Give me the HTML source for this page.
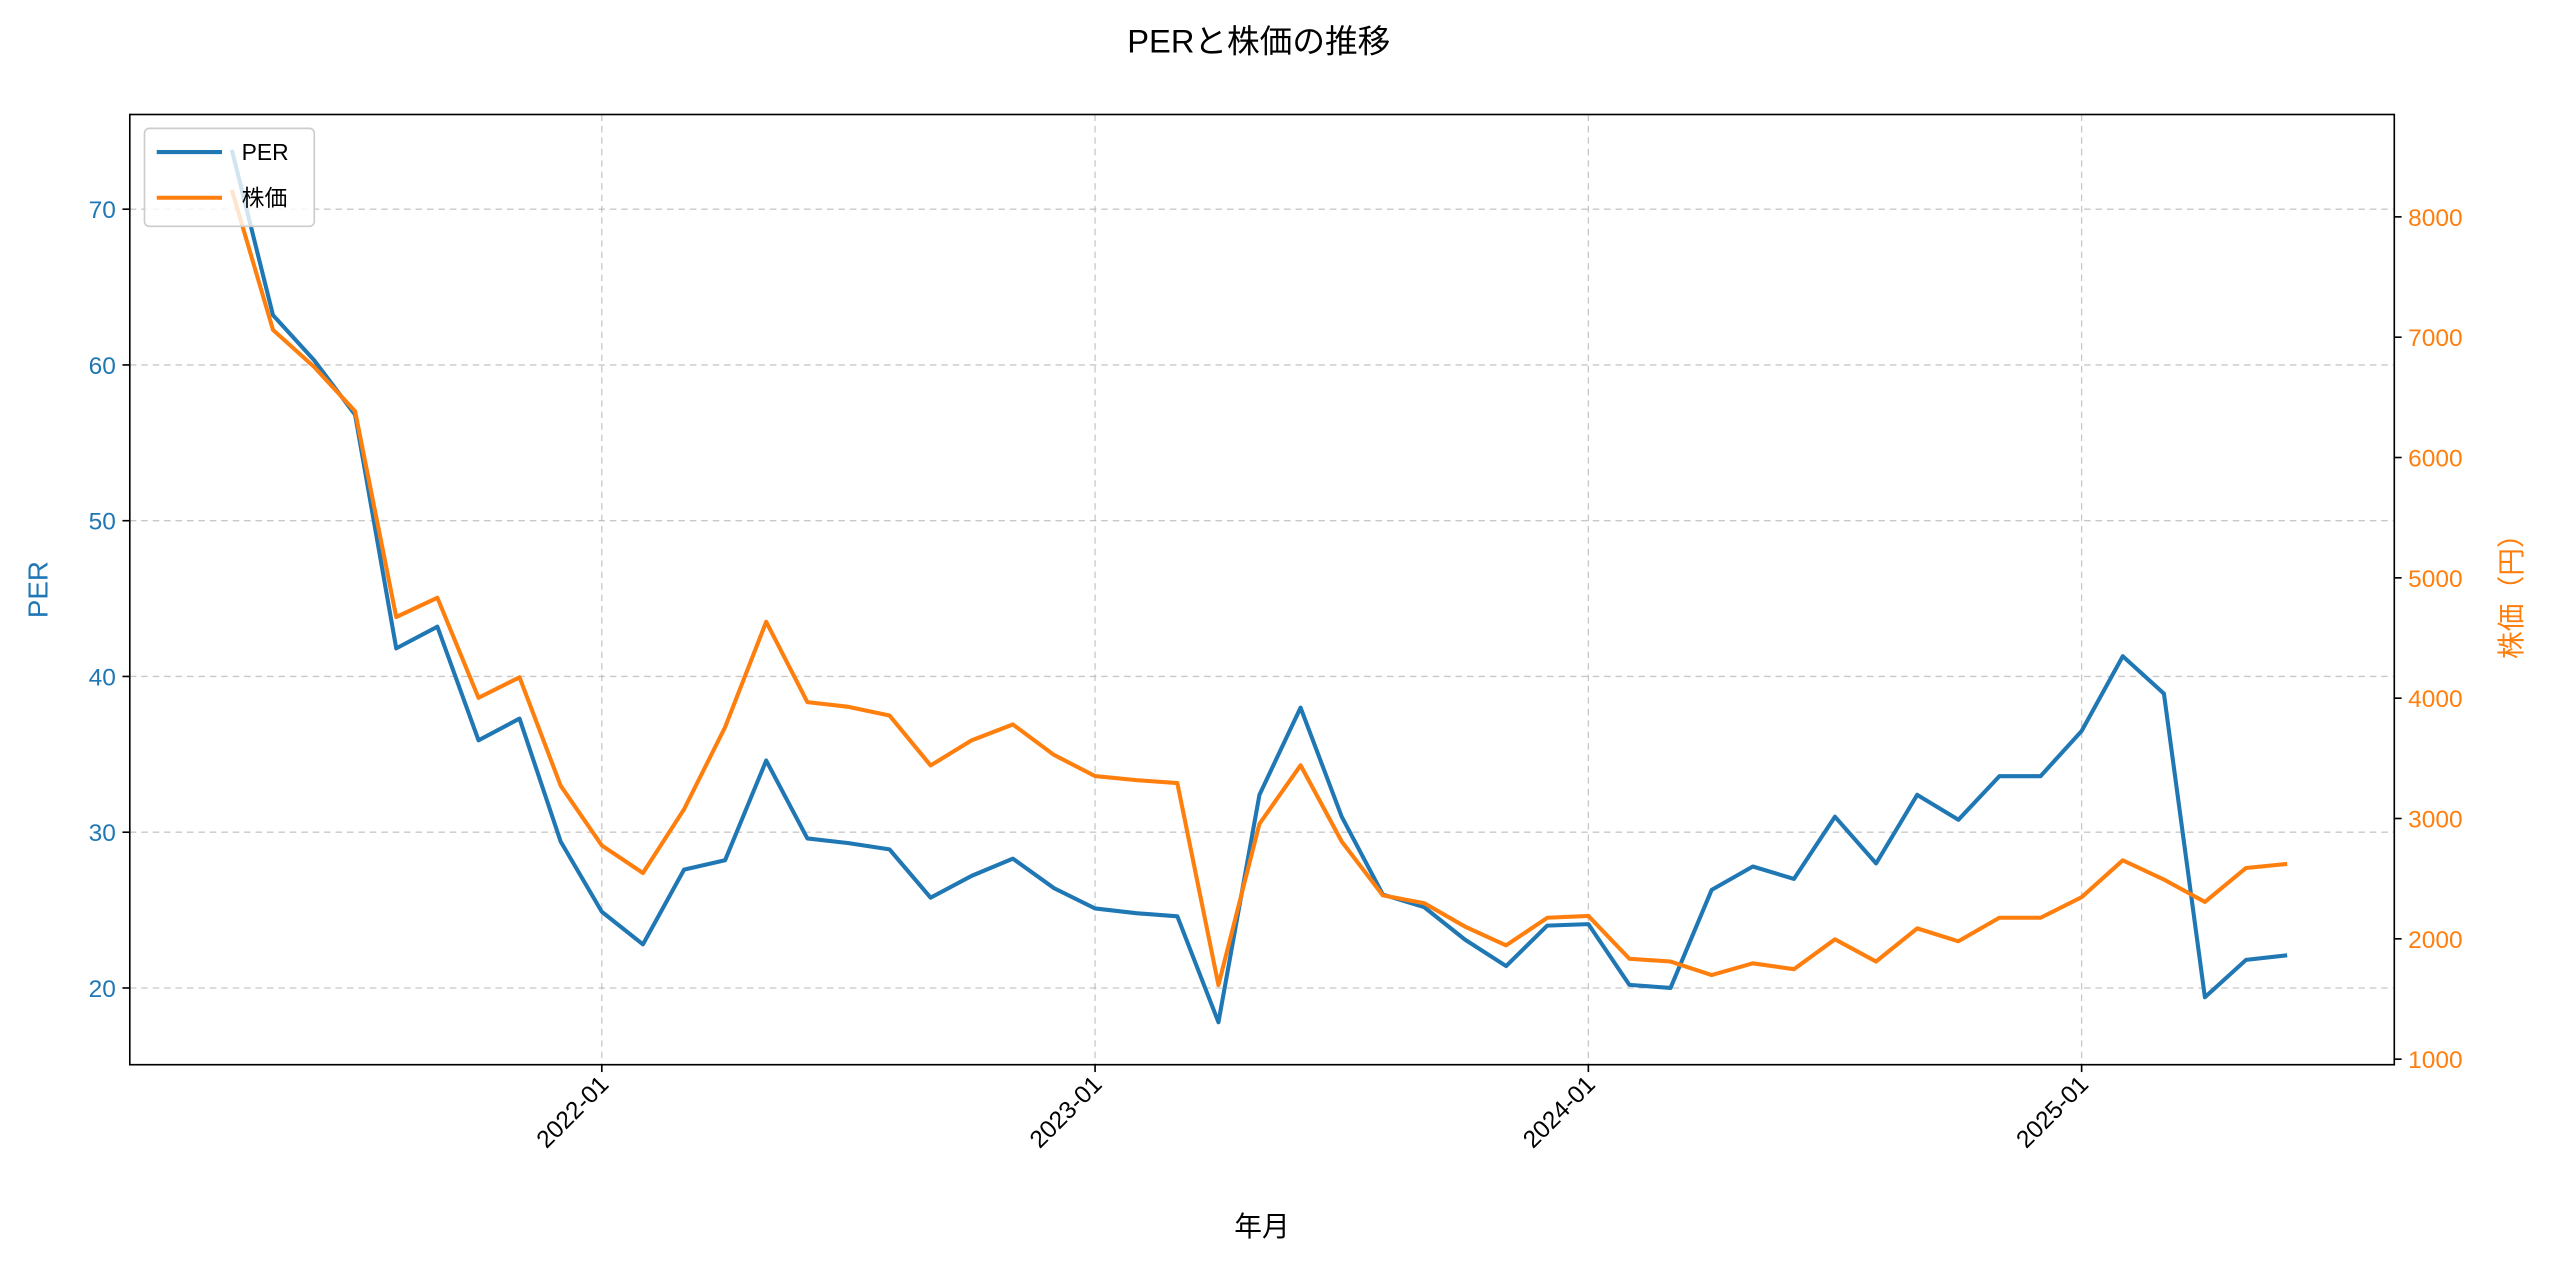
<!DOCTYPE html>
<html><head><meta charset="utf-8"><style>
html,body{margin:0;padding:0;background:#fff;}
svg{display:block;font-family:"Liberation Sans","Noto Sans CJK JP",sans-serif;}
</style></head><body>
<svg id="chart" width="2560" height="1269" viewBox="0 0 1568 777" xmlns="http://www.w3.org/2000/svg">
<rect x="0" y="0" width="1568" height="777" fill="#fff"/>
<text x="771" y="32" font-size="20" text-anchor="middle" fill="#000">PERと株価の推移</text>
<g id="grid"></g>
<g id="axes"></g>
<g id="series"></g>
<rect x="79.5" y="70" width="1387" height="582" fill="none" stroke="#000" stroke-width="1"/>
<text transform="translate(29,361) rotate(-90)" font-size="17" text-anchor="middle" fill="#1f77b4">PER</text>
<text transform="translate(1544,361) rotate(-90)" font-size="17" text-anchor="middle" fill="#ff7f0e">株価（円）</text>
<text x="773" y="757" font-size="17" text-anchor="middle" fill="#000">年月</text>
<g>
<rect x="88.5" y="78.5" width="104" height="60" rx="3" fill="#fff" fill-opacity="0.8" stroke="#ccc"/>
<line x1="96" y1="93" x2="136" y2="93" stroke="#1f77b4" stroke-width="2.5"/>
<text x="148" y="98" font-size="14" fill="#000">PER</text>
<line x1="96" y1="121" x2="136" y2="121" stroke="#ff7f0e" stroke-width="2.5"/>
<text x="148" y="126" font-size="14" fill="#000">株価</text>
</g>
</svg>
<script>
const months = 51; // 2021-04 .. 2025-06
const perValues = [73.8,63.2,60.3,56.8,41.8,43.2,35.9,37.3,29.4,24.9,22.8,27.6,28.2,34.6,29.6,29.3,28.9,25.8,27.2,28.3,26.4,25.1,24.8,24.6,17.8,32.4,38.0,31.0,26.0,25.2,23.1,21.4,24.0,24.1,20.2,20.0,26.3,27.8,27.0,31.0,28.0,32.4,30.8,33.6,33.6,36.5,41.3,38.9,19.4,21.8,22.1];
const priceValues = [8224,7061,6753,6384,4674,4834,4003,4174,3273,2776,2547,3077,3759,4635,3967,3928,3856,3441,3650,3782,3528,3353,3319,3295,1616,2955,3442,2809,2361,2297,2102,1946,2175,2190,1834,1811,1699,1796,1748,1996,1811,2087,1980,2175,2175,2346,2653,2493,2307,2589,2623];
const leftTicks = [20,30,40,50,60,70];
const rightTicks = [1000,2000,3000,4000,5000,6000,7000,8000];
const xTickLabels = ["2022-01","2023-01","2024-01","2025-01"];
const xTickIndex = [9,21,33,45];

const NS="http://www.w3.org/2000/svg";
const xOf = i => 142 + i*(1275-142)/45;
const yL = v => 605 - (v-20)*(605-128)/50;
const yR = v => 648.6 - (v-1000)*(648.6-132.7)/7000;
function mk(tag, attrs, parent, text){const e=document.createElementNS(NS,tag);for(const k in attrs)e.setAttribute(k,attrs[k]);if(text!==undefined)e.textContent=text;parent.appendChild(e);return e;}
const grid=document.getElementById('grid'), axes=document.getElementById('axes'), series=document.getElementById('series');

leftTicks.forEach(t=>{
  const y=yL(t);
  const g=mk('line',{x1:79.5,x2:1466.5,y1:y,y2:y,stroke:'#b0b0b0','stroke-width':0.8,'stroke-dasharray':'4,3','stroke-opacity':0.7},grid);
  
  
  mk('line',{x1:75,x2:79.5,y1:y,y2:y,stroke:'#000','stroke-width':1},axes);
  const l=mk('text',{x:71,y:y+5.5,'font-size':15,'text-anchor':'end',fill:'#1f77b4'},axes,String(t));
  
  
});
rightTicks.forEach(t=>{
  const y=yR(t);
  mk('line',{x1:1466.5,x2:1471,y1:y,y2:y,stroke:'#000','stroke-width':1},axes);
  const l=mk('text',{x:1475,y:y+5.5,'font-size':15,fill:'#ff7f0e'},axes,String(t));
  
  
});
xTickLabels.forEach((lab,k)=>{
  const x=xOf(xTickIndex[k]);
  const g=mk('line',{x1:x,x2:x,y1:70,y2:652,stroke:'#b0b0b0','stroke-width':0.8,'stroke-dasharray':'4,3','stroke-opacity':0.7},grid);
  
  
  mk('line',{x1:x,x2:x,y1:652,y2:656.5,stroke:'#000','stroke-width':1},axes);
  const l=mk('text',{transform:`translate(${x+5},${665}) rotate(-45)`,'font-size':15,'text-anchor':'end',fill:'#000'},axes,lab);
  
  
});
const perPts=perValues.map((v,i)=>xOf(i).toFixed(1)+','+yL(v).toFixed(1)).join(' ');
const pricePts=priceValues.map((v,i)=>xOf(i).toFixed(1)+','+yR(v).toFixed(1)).join(' ');
const p1=mk('polyline',{points:perPts,fill:'none',stroke:'#1f77b4','stroke-width':2.5,'stroke-linejoin':'round'},series);


const p2=mk('polyline',{points:pricePts,fill:'none',stroke:'#ff7f0e','stroke-width':2.5,'stroke-linejoin':'round'},series);


</script>
</body></html>
